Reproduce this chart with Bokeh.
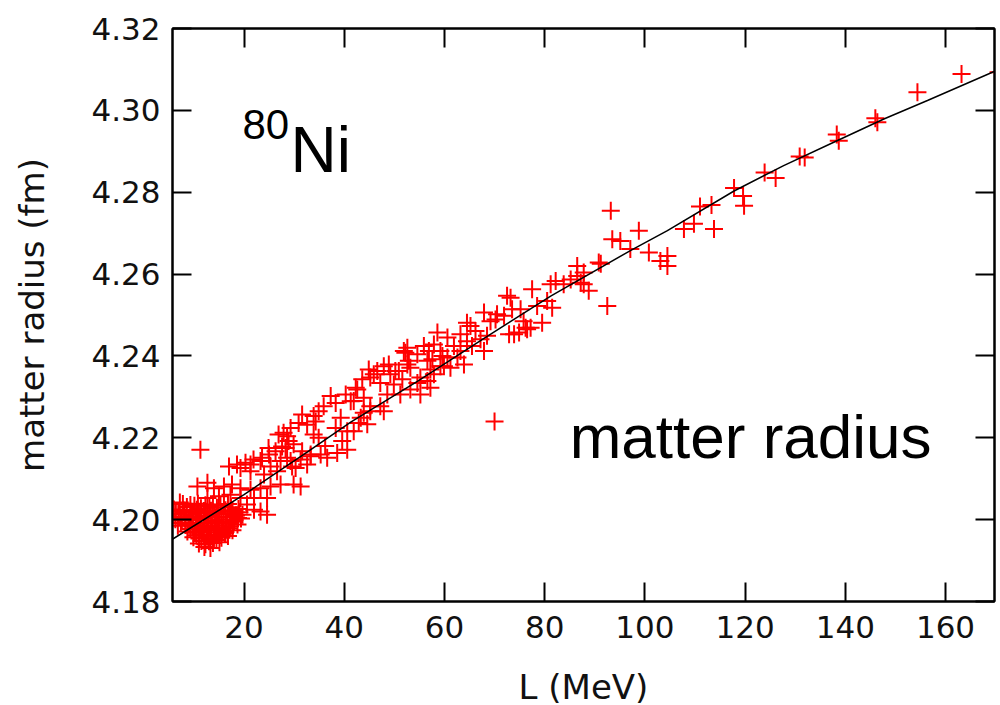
from bokeh.plotting import figure
from bokeh.models import LinearAxis, FixedTicker, PrintfTickFormatter, Range1d
from bokeh.core.properties import value
from bokeh.embed import file_html
from bokeh.resources import INLINE

# ---------------- data ----------------
x_ticks = [20, 40, 60, 80, 100, 120, 140, 160]
y_ticks = [4.18, 4.20, 4.22, 4.24, 4.26, 4.28, 4.30, 4.32]

# fitted trend line
line_L = [5.7, 20.0, 32.6, 41.3, 54.6, 67.9, 81.2, 97.2, 104.5, 117.8, 127.7, 137.7, 147.7, 156.4, 171.0]
line_R = [4.1952, 4.2061, 4.2165, 4.2238, 4.2338, 4.2443, 4.2546, 4.2658, 4.2706, 4.2803, 4.2865, 4.2922, 4.2979, 4.3024, 4.3102]

# scatter points, L > 90 MeV
A_L = [93.2, 92.5, 91.2, 93.5, 95.1, 97.1, 98.8, 100.8, 103.1, 104.5, 104.5, 107.8, 109.8, 111.0, 113.3,
       113.8, 117.8, 119.6, 119.8, 123.9, 126.1, 130.9, 131.9, 138.3, 138.7, 146.0, 146.4, 154.4, 163.2, 170.6]
A_R = [4.2755, 4.2522, 4.2625, 4.2685, 4.2681, 4.2661, 4.2706, 4.2653, 4.2632, 4.2644, 4.2620, 4.2710, 4.2723, 4.2765, 4.2769,
       4.2710, 4.2810, 4.2791, 4.2767, 4.2848, 4.2835, 4.2887, 4.2885, 4.2941, 4.2926, 4.2981, 4.2971, 4.3044, 4.3089, 4.3093]

# 70 - 91 MeV
B_L = [90.8, 86.5, 86.5, 87.8, 88.8, 82.2, 85.2, 77.5, 81.5, 79.5, 73.2, 73.5, 71.9, 76.2, 74.9,
       72.9, 87.8, 87.2, 83.8, 81.2, 80.5, 78.5, 70.0, 76.5, 72.5, 75.2, 75.8, 77.2, 73.9]
B_R = [4.2628, 4.2620, 4.2595, 4.2575, 4.2559, 4.2583, 4.2587, 4.2563, 4.2518, 4.2481, 4.2542, 4.2514, 4.2498, 4.2469, 4.2457,
       4.2453, 4.2604, 4.2579, 4.2575, 4.2575, 4.2534, 4.2522, 4.2240, 4.2465, 4.2547, 4.2514, 4.2485, 4.2469, 4.2453]

# 55 - 71 MeV
C_L = [64.5, 66.2, 63.2, 67.2, 68.5, 58.6, 60.6, 57.9, 61.9, 63.2, 56.9, 59.2, 60.6, 56.6, 62.6, 63.9, 61.2, 59.2,
       57.9, 55.2, 56.6, 57.2, 69.2, 70.5, 67.9, 70.2, 65.2, 64.5, 65.5, 67.9, 55.9, 57.6, 59.6, 59.9, 57.2, 54.6]
C_R = [4.2481, 4.2461, 4.2453, 4.2441, 4.2449, 4.2457, 4.2445, 4.2428, 4.2424, 4.2412, 4.2412, 4.2412, 4.2396, 4.2388,
       4.2396, 4.2379, 4.2371, 4.2375, 4.2355, 4.2347, 4.2339, 4.2322, 4.2485, 4.2502, 4.2506, 4.2489, 4.2473, 4.2436,
       4.2424, 4.2412, 4.2424, 4.2392, 4.2400, 4.2375, 4.2367, 4.2404]

# 38 - 55 MeV
D_L = [47.9, 49.2, 46.6, 45.2, 47.2, 49.9, 42.6, 43.9, 41.9, 48.6, 45.2, 47.9, 43.3, 44.6, 41.9, 52.2, 52.9, 48.9,
       50.2, 44.9, 45.9, 43.6, 42.3, 40.3, 41.3, 42.9, 43.9, 45.2, 47.2, 53.2, 55.2, 39.3, 38.3, 40.6, 39.6, 40.6,
       52.6, 53.2, 50.9, 51.6, 51.2, 54.6, 52.6, 51.9]
D_R = [4.2375, 4.2355, 4.2363, 4.2347, 4.2334, 4.2330, 4.2318, 4.2298, 4.2290, 4.2306, 4.2265, 4.2265, 4.2249, 4.2233,
       4.2216, 4.2408, 4.2388, 4.2379, 4.2363, 4.2367, 4.2355, 4.2343, 4.2322, 4.2306, 4.2289, 4.2236, 4.2261, 4.2277,
       4.2277, 4.2318, 4.2306, 4.2249, 4.2224, 4.2216, 4.2192, 4.2171, 4.2420, 4.2371, 4.2363, 4.2343, 4.2306, 4.2334,
       4.2379, 4.2412]

# 25 - 39 MeV
E_L = [37.3, 38.3, 35.9, 34.9, 33.9, 31.6, 30.9, 32.6, 29.3, 28.6, 28.3, 29.9, 33.9, 34.9, 31.6, 33.3, 29.3,
       30.3, 28.6, 31.3, 33.3, 35.3, 36.6, 38.6, 32.6, 29.6, 27.6, 28.9, 26.9, 27.9, 24.9, 36.2, 34.3]
E_R = [4.2302, 4.2285, 4.2277, 4.2265, 4.2253, 4.2257, 4.2236, 4.2232, 4.2224, 4.2204, 4.2175, 4.2184, 4.2208,
       4.2200, 4.2167, 4.2159, 4.2143, 4.2126, 4.2151, 4.2147, 4.2155, 4.2159, 4.2151, 4.2163, 4.2135, 4.2130,
       4.2179, 4.2192, 4.2208, 4.2212, 4.2175, 4.2180, 4.2240]

# 10 - 31 MeV, upper and lower bands
F_L = [19.3, 21.3, 23.3, 25.3, 27.3, 21.3, 24.0, 26.6, 17.0, 18.6, 20.3, 21.9, 23.6, 25.0, 26.3,
       10.7, 12.7, 14.0, 16.0, 17.6, 19.3, 21.3, 23.3, 25.3, 27.3, 29.9, 31.3, 12.7, 15.0, 17.3, 19.3,
       22.0, 24.6, 23.3, 24.6, 20.6, 22.0, 11.3]
F_R = [4.2126, 4.2135, 4.2143, 4.2130, 4.2143, 4.2118, 4.2110, 4.2118, 4.2130, 4.2135, 4.2139, 4.2147, 4.2151,
       4.2159, 4.2167, 4.2081, 4.2090, 4.2077, 4.2081, 4.2086, 4.2077, 4.2073, 4.2077, 4.2081, 4.2086, 4.2086,
       4.2081, 4.2053, 4.2057, 4.2061, 4.2053, 4.2053, 4.2053, 4.2020, 4.2012, 4.2037, 4.2024, 4.2171]

# dense cluster at small L
G_L = [7.2, 6.0, 8.6, 10.1, 11.4, 13.1, 14.6, 16.0, 17.4, 18.9,
       6.9, 8.1, 9.6, 11.0, 12.4, 14.1, 15.5, 17.1, 18.4, 19.7,
       6.3, 7.6, 9.0, 10.6, 12.0, 13.6, 15.1, 16.4, 18.1, 19.4,
       6.8, 8.3, 9.7, 11.3, 12.9, 14.3, 15.8, 17.2, 18.7,
       8.7, 10.2, 11.7, 13.3, 14.8, 16.3, 17.7,
       9.9, 11.1, 12.7, 14.0, 15.5, 16.8,
       11.0, 12.3, 13.8, 15.1,
       12.1, 13.3]
G_R = [4.2042, 4.2025, 4.2031, 4.2034, 4.2028, 4.2033, 4.2029, 4.2035, 4.2030, 4.2026,
       4.2014, 4.2018, 4.2012, 4.2016, 4.2011, 4.2017, 4.2013, 4.2015, 4.2010, 4.2012,
       4.2001, 4.1998, 4.2003, 4.1999, 4.2002, 4.1997, 4.2000, 4.1996, 4.1999, 4.2003,
       4.1985, 4.1987, 4.1983, 4.1986, 4.1982, 4.1985, 4.1981, 4.1984, 4.1988,
       4.1971, 4.1968, 4.1972, 4.1969, 4.1973, 4.1970, 4.1974,
       4.1957, 4.1954, 4.1958, 4.1953, 4.1956, 4.1960,
       4.1942, 4.1940, 4.1943, 4.1945,
       4.1933, 4.1931]

# more of the dense cluster (between the rows above)
H_L = [7.8, 9.3, 10.8, 12.3, 13.8, 15.3, 16.8,
       6.4, 7.9, 9.3, 10.6, 12.0, 13.4, 14.8, 16.3, 17.7, 19.1,
       7.0, 8.3, 9.8, 11.3, 12.8, 14.4, 15.9, 17.4, 18.8,
       7.4, 9.0, 10.4, 12.1, 13.6, 15.1, 16.6, 18.0,
       9.3, 10.9, 12.5, 14.1, 15.6, 17.0,
       10.5, 12.0, 13.5, 15.0, 16.2,
       11.5, 13.0, 14.5]
H_R = [4.2038, 4.2036, 4.2039, 4.2035, 4.2037, 4.2034, 4.2038,
       4.2021, 4.2023, 4.2020, 4.2024, 4.2021, 4.2022, 4.2019, 4.2023, 4.2021, 4.2018,
       4.2007, 4.2005, 4.2008, 4.2006, 4.2009, 4.2005, 4.2007, 4.2006, 4.2004,
       4.1992, 4.1990, 4.1993, 4.1991, 4.1994, 4.1990, 4.1992, 4.1995,
       4.1977, 4.1979, 4.1976, 4.1978, 4.1975, 4.1979,
       4.1962, 4.1964, 4.1961, 4.1963, 4.1966,
       4.1948, 4.1947, 4.1950]

pts_L = A_L + B_L + C_L + D_L + E_L + F_L + G_L + H_L
pts_R = A_R + B_R + C_R + D_R + E_R + F_R + G_R + H_R

# ---------------- figure ----------------
TICK_FONT = "DejaVu Sans"
p = figure(frame_width=822, frame_height=573,
           x_range=Range1d(5.73, 169.78), y_range=Range1d(4.18, 4.32),
           output_backend="svg", toolbar_location=None,
           min_border_left=172, min_border_top=28, min_border_bottom=96, min_border_right=2,
           background_fill_color="white", border_fill_color="white")
p.grid.visible = False
p.outline_line_color = "black"
p.outline_line_width = 2


def style_axis(ax, ticks, labels=True):
    ax.ticker = FixedTicker(ticks=ticks)
    ax.axis_line_color = "black"
    ax.axis_line_width = 2
    ax.major_tick_line_color = "black"
    ax.major_tick_line_width = 2
    ax.major_tick_in = 19
    ax.major_tick_out = 0
    ax.minor_tick_line_color = None
    if labels:
        ax.major_label_text_font = TICK_FONT
        ax.major_label_text_font_size = "31px"
        ax.major_label_text_color = "#111111"
        ax.axis_label_text_font = TICK_FONT
        ax.axis_label_text_font_size = "34px"
        ax.axis_label_text_font_style = "normal"
        ax.axis_label_text_color = "#111111"
    else:
        ax.major_label_text_color = None
        ax.major_label_text_alpha = 0
        ax.major_label_text_font_size = "1px"
        ax.major_label_standoff = 0


style_axis(p.xaxis[0], x_ticks)
style_axis(p.yaxis[0], y_ticks)
p.xaxis[0].axis_label = "L (MeV)"
p.xaxis[0].major_label_standoff = 14
p.xaxis[0].axis_label_standoff = 26
p.yaxis[0].axis_label = "matter radius (fm)"
p.yaxis[0].formatter = PrintfTickFormatter(format="%.2f")
p.yaxis[0].major_label_standoff = 12
p.yaxis[0].axis_label_standoff = 36

top = LinearAxis()
style_axis(top, x_ticks, labels=False)
p.add_layout(top, "above")
right = LinearAxis()
style_axis(right, y_ticks, labels=False)
p.add_layout(right, "right")

p.scatter(pts_L, pts_R, marker="cross", size=18, line_color="#ff0000", line_width=2)
p.line(line_L, line_R, line_color="black", line_width=1.5)

p.text(x=[19.7], y=[4.2966], text=["80"], text_font=value("Liberation Sans"),
       text_font_size="42px", text_color="black", text_baseline="alphabetic", text_align="left")
p.text(x=[29.3], y=[4.2902], text=["Ni"], text_font=value("Liberation Sans"),
       text_font_size="64px", text_color="black", text_baseline="alphabetic", text_align="left")
p.text(x=[85.0], y=[4.2204], text=["matter radius"], text_font=value("Liberation Sans"),
       text_font_size="62px", text_color="black", text_baseline="alphabetic", text_align="left")

open("out.html", "w").write(file_html(p, INLINE))
